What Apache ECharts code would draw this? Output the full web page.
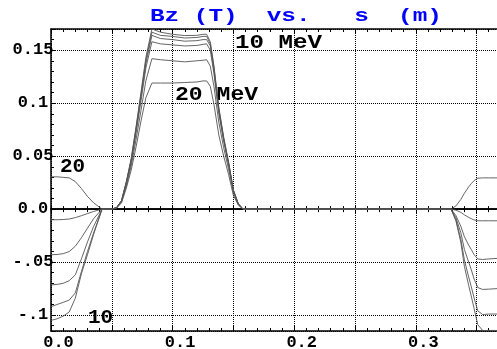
<!DOCTYPE html>
<html lang="en">
  <head>
    <meta charset="UTF-8" />
    <title>Bz (T) vs. s (m)</title>
    <style>
      html,
      body {
        margin: 0;
        padding: 0;
        background: #fff;
      }
      #chart {
        width: 497px;
        height: 349px;
      }
    </style>
    <script src="https://cdn.jsdelivr.net/npm/echarts@6.0.0/dist/echarts.min.js"></script>
  </head>
  <body>
    <div id="chart"></div>
    <script>
      // s (m)
      const s = [
        0, 0.005, 0.01, 0.015, 0.02, 0.025, 0.03, 0.035, 0.042, 0.046,
        0.05, 0.054, 0.058, 0.062, 0.066, 0.07, 0.074, 0.078, 0.083, 0.09,
        0.1, 0.11, 0.12, 0.125, 0.128, 0.131, 0.134, 0.138, 0.142, 0.146,
        0.15, 0.154, 0.158, 0.2, 0.25, 0.3, 0.329, 0.333, 0.337, 0.34,
        0.3435, 0.3456, 0.348, 0.351, 0.355, 0.36, 0.3668
      ]
      // Bz (T), one list per energy
      const bz10 = [
        -0.105, -0.1035, -0.101, -0.097, -0.084, -0.061, -0.043, -0.024, 0,
        0, 0, 0.0015, 0.008, 0.026, 0.048, 0.078, 0.11, 0.143, 0.17,
        0.167, 0.165, 0.1638, 0.164, 0.165, 0.165,
        0.158, 0.135, 0.096, 0.068, 0.045, 0.018, 0.005, 0,
        0, 0, 0, 0,
        -0.011, -0.031, -0.054, -0.072, -0.082, -0.094, -0.109, -0.1145, -0.1145, -0.1145
      ]
      const bz12 = [
        -0.092, -0.09, -0.088, -0.0858, -0.079, -0.059, -0.04, -0.0225, 0,
        0, 0, 0.0015, 0.008, 0.026, 0.047, 0.077, 0.108, 0.14, 0.167,
        0.164, 0.163, 0.1615, 0.162, 0.163, 0.163,
        0.156, 0.134, 0.095, 0.067, 0.044, 0.018, 0.005, 0,
        0, 0, 0, 0,
        -0.01, -0.028, -0.048, -0.064, -0.073, -0.084, -0.096, -0.0995, -0.099, -0.099
      ]
      const bz14 = [
        -0.0715, -0.071, -0.07, -0.0675, -0.062, -0.047, -0.031, -0.0164, 0,
        0, 0, 0.0015, 0.008, 0.025, 0.046, 0.075, 0.106, 0.137, 0.164,
        0.161, 0.16, 0.1585, 0.159, 0.16, 0.16,
        0.154, 0.131, 0.093, 0.066, 0.043, 0.018, 0.005, 0,
        0, 0, 0, 0,
        -0.008, -0.022, -0.038, -0.05, -0.057, -0.066, -0.074, -0.0758, -0.0755, -0.075
      ]
      const bz16 = [
        -0.043, -0.0428, -0.042, -0.04, -0.035, -0.027, -0.018, -0.009, 0,
        0, 0, 0.0014, 0.0075, 0.024, 0.044, 0.072, 0.102, 0.133, 0.158,
        0.156, 0.155, 0.154, 0.1545, 0.1555, 0.156,
        0.15, 0.128, 0.09, 0.064, 0.042, 0.017, 0.005, 0,
        0, 0, 0, 0,
        -0.006, -0.016, -0.026, -0.034, -0.038, -0.043, -0.047, -0.0475, -0.047, -0.0465
      ]
      const bz18 = [
        -0.01, -0.01, -0.0098, -0.0093, -0.008, -0.0062, -0.0042, -0.0022, 0,
        0, 0, 0.0012, 0.007, 0.022, 0.041, 0.066, 0.093, 0.121, 0.142,
        0.141, 0.14, 0.139, 0.14, 0.1405, 0.141,
        0.135, 0.116, 0.082, 0.058, 0.038, 0.016, 0.004, 0,
        0, 0, 0, 0,
        -0.001, -0.003, -0.0054, -0.0078, -0.009, -0.0102, -0.011, -0.011, -0.011, -0.011
      ]
      const bz20 = [
        0.0305, 0.0305, 0.03, 0.0295, 0.026, 0.0195, 0.012, 0.006, 0,
        0, 0, 0.001, 0.006, 0.02, 0.037, 0.059, 0.083, 0.105, 0.119,
        0.119, 0.119, 0.1195, 0.12, 0.121, 0.121,
        0.116, 0.099, 0.07, 0.05, 0.033, 0.013, 0.004, 0,
        0, 0, 0, 0,
        0.003, 0.009, 0.015, 0.021, 0.024, 0.027, 0.0292, 0.0295, 0.0295, 0.0295
      ]
      const curves = [bz10, bz12, bz14, bz16, bz18, bz20]

      const xTicks = [0, 0.1, 0.2, 0.3]
      const xTickLabels = ['0.0', '0.1', '0.2', '0.3']
      const yTicks = [-0.1, -0.05, 0, 0.05, 0.1, 0.15]
      const yTickLabels = ['-.1', '-.05', '0.0', '0.05', '0.1', '0.15']

      const mono = '"Liberation Mono", "DejaVu Sans Mono", monospace'
      const xMin = 0
      const xMax = 0.3668
      const yMin = -0.115
      const yMax = 0.17

      function pick(ticks, labels, v) {
        const i = ticks.findIndex((t) => Math.abs(t - v) < 1e-6)
        return i < 0 ? '' : labels[i]
      }

      const gridBox = { left: 51, top: 29, right: 0, bottom: 18, outerBoundsMode: 'none' }
      const black = { color: '#000', width: 1.5 }
      const dots = { show: true, lineStyle: { color: '#000', type: [1, 1], width: 1 } }
      const labelFont = {
        fontFamily: mono,
        fontWeight: 'bold',
        fontSize: 17,
        color: '#000'
      }

      const chart = echarts.init(document.getElementById('chart'), null, { renderer: 'canvas' })
      chart.setOption({
        animation: false,
        backgroundColor: '#fff',
        grid: [gridBox, gridBox],
        xAxis: [
          {
            gridIndex: 0,
            type: 'value',
            position: 'bottom',
            min: xMin,
            max: xMax,
            interval: 0.05,
            axisLine: { onZero: false, lineStyle: black },
            axisTick: { inside: true, length: 5, lineStyle: { color: '#000' } },
            minorTick: { show: true, splitNumber: 5, length: 3, lineStyle: { color: '#000' } },
            splitLine: dots,
            axisLabel: Object.assign({}, labelFont, {
              margin: 3,
              padding: [0, 0, 0, 15],
              formatter: (v) => pick(xTicks, xTickLabels, v)
            })
          },
          {
            gridIndex: 0,
            type: 'value',
            position: 'top',
            min: xMin,
            max: xMax,
            interval: 0.05,
            axisLine: { onZero: false, lineStyle: black },
            axisTick: { inside: true, length: 5, lineStyle: { color: '#000' } },
            minorTick: { show: true, splitNumber: 5, length: 3, lineStyle: { color: '#000' } },
            splitLine: { show: false },
            axisLabel: { show: false }
          },
          // zero line, ticks pointing down
          {
            gridIndex: 1,
            type: 'value',
            position: 'bottom',
            min: xMin,
            max: xMax,
            interval: 0.05,
            axisLine: { onZero: true, lineStyle: black },
            axisTick: { inside: false, length: 4, lineStyle: { color: '#000' } },
            minorTick: { show: true, splitNumber: 5, length: 3, lineStyle: { color: '#000' } },
            splitLine: { show: false },
            axisLabel: { show: false }
          },
          // zero line, ticks pointing up
          {
            gridIndex: 1,
            type: 'value',
            position: 'top',
            min: xMin,
            max: xMax,
            interval: 0.05,
            axisLine: { onZero: true, lineStyle: black },
            axisTick: { inside: false, length: 4, lineStyle: { color: '#000' } },
            minorTick: { show: true, splitNumber: 5, length: 3, lineStyle: { color: '#000' } },
            splitLine: { show: false },
            axisLabel: { show: false }
          }
        ],
        yAxis: [
          {
            gridIndex: 0,
            type: 'value',
            position: 'left',
            min: yMin,
            max: yMax,
            splitNumber: 6,
            axisLine: { onZero: false, lineStyle: black },
            axisTick: { inside: true, length: 5, lineStyle: { color: '#000' } },
            minorTick: { show: true, splitNumber: 5, length: 3, lineStyle: { color: '#000' } },
            splitLine: dots,
            axisLabel: Object.assign({}, labelFont, {
              align: 'center',
              margin: 18,
              formatter: (v) => pick(yTicks, yTickLabels, v)
            })
          },
          { gridIndex: 1, type: 'value', position: 'left', min: yMin, max: yMax, show: false },
          { gridIndex: 1, type: 'value', position: 'right', min: yMin, max: yMax, show: false }
        ],
        graphic: [
          {
            type: 'text',
            x: 150,
            y: 16,
            scaleX: 1.28,
            style: {
              text: 'Bz (T)  vs.   s  (m)',
              font: 'bold 19px ' + mono,
              fill: '#0000ff',
              verticalAlign: 'middle',
              textVerticalAlign: 'middle'
            }
          },
          {
            type: 'text',
            x: 235,
            y: 43,
            scaleX: 1.15,
            style: { text: '10 MeV', font: 'bold 21px ' + mono, fill: '#000', verticalAlign: 'middle', textVerticalAlign: 'middle' }
          },
          {
            type: 'text',
            x: 175,
            y: 95,
            scaleX: 1.1,
            style: { text: '20 MeV', font: 'bold 21px ' + mono, fill: '#000', verticalAlign: 'middle', textVerticalAlign: 'middle' }
          },
          {
            type: 'text',
            x: 60,
            y: 167,
            style: { text: '20', font: 'bold 21px ' + mono, fill: '#000', verticalAlign: 'middle', textVerticalAlign: 'middle' }
          },
          {
            type: 'text',
            x: 88,
            y: 318,
            style: { text: '10', font: 'bold 21px ' + mono, fill: '#000', verticalAlign: 'middle', textVerticalAlign: 'middle' }
          }
        ],
        series: curves.map((ys) => ({
          type: 'line',
          xAxisIndex: 0,
          yAxisIndex: 0,
          showSymbol: false,
          silent: true,
          lineStyle: { color: '#555', width: 0.9 },
          data: s.map((x, i) => [x, ys[i]])
        }))
      })
    </script>
  </body>
</html>
